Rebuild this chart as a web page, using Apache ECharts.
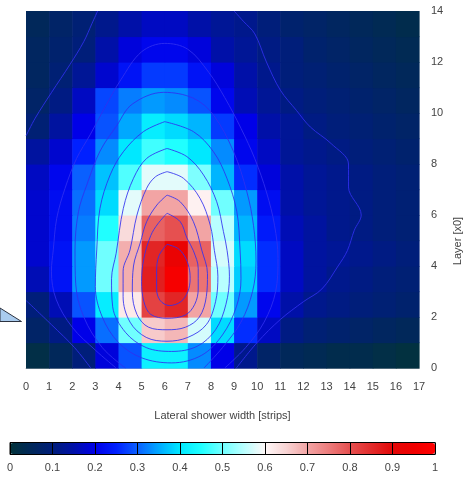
<!DOCTYPE html>
<html>
<head>
<meta charset="utf-8">
<script src="https://cdn.jsdelivr.net/npm/echarts@6/dist/echarts.min.js"></script>
<style>
html, body { margin: 0; padding: 0; background: #fff; }
#chart { width: 471px; height: 477px; }
</style>
</head>
<body>
<div id="chart"></div>
<script>
// strip (x) and layer (y) index of every cell, lower edge of the cell
const strips = [0, 1, 2, 3, 4, 5, 6, 7, 8, 9, 10, 11, 12, 13, 14, 15, 16]
const layers = [0, 1, 2, 3, 4, 5, 6, 7, 8, 9, 10, 11, 12, 13]

// normalised energy, one row per layer (layer 0 first)
const cellValues = [
  [0.02, 0.05, 0.10, 0.19, 0.29, 0.42, 0.42, 0.33, 0.20, 0.12, 0.07, 0.05, 0.04, 0.03, 0.03, 0.02, 0.01],
  [0.07, 0.11, 0.20, 0.31, 0.50, 0.66, 0.68, 0.57, 0.39, 0.26, 0.17, 0.11, 0.09, 0.08, 0.07, 0.06, 0.05],
  [0.10, 0.16, 0.29, 0.41, 0.62, 0.82, 0.86, 0.70, 0.50, 0.34, 0.21, 0.15, 0.12, 0.11, 0.10, 0.09, 0.08],
  [0.16, 0.23, 0.34, 0.50, 0.69, 0.87, 0.97, 0.76, 0.55, 0.38, 0.26, 0.17, 0.14, 0.12, 0.11, 0.10, 0.09],
  [0.18, 0.23, 0.34, 0.50, 0.69, 0.86, 0.93, 0.78, 0.57, 0.39, 0.26, 0.17, 0.14, 0.13, 0.12, 0.11, 0.10],
  [0.18, 0.22, 0.32, 0.45, 0.64, 0.78, 0.80, 0.70, 0.55, 0.36, 0.24, 0.16, 0.14, 0.12, 0.11, 0.10, 0.09],
  [0.18, 0.22, 0.31, 0.39, 0.58, 0.70, 0.70, 0.61, 0.50, 0.34, 0.22, 0.15, 0.13, 0.12, 0.11, 0.10, 0.09],
  [0.17, 0.21, 0.30, 0.37, 0.48, 0.58, 0.58, 0.51, 0.36, 0.26, 0.19, 0.15, 0.13, 0.12, 0.11, 0.10, 0.09],
  [0.14, 0.18, 0.25, 0.33, 0.40, 0.47, 0.45, 0.40, 0.33, 0.21, 0.17, 0.13, 0.12, 0.11, 0.10, 0.09, 0.08],
  [0.09, 0.14, 0.20, 0.29, 0.35, 0.41, 0.39, 0.36, 0.27, 0.20, 0.15, 0.13, 0.11, 0.10, 0.09, 0.08, 0.07],
  [0.07, 0.11, 0.17, 0.28, 0.32, 0.34, 0.33, 0.29, 0.21, 0.16, 0.13, 0.11, 0.10, 0.09, 0.08, 0.07, 0.06],
  [0.06, 0.09, 0.13, 0.18, 0.23, 0.27, 0.27, 0.23, 0.19, 0.15, 0.12, 0.10, 0.09, 0.08, 0.07, 0.06, 0.05],
  [0.06, 0.08, 0.10, 0.15, 0.19, 0.21, 0.21, 0.19, 0.15, 0.13, 0.11, 0.10, 0.08, 0.07, 0.06, 0.05, 0.04],
  [0.05, 0.07, 0.09, 0.12, 0.15, 0.17, 0.17, 0.15, 0.13, 0.12, 0.10, 0.08, 0.07, 0.06, 0.05, 0.04, 0.03]
]

// contour lines, [strip, layer]
const contour10a = [[0, 9.1], [0.4, 9.8], [1.1, 10.8], [1.9, 11.9], [2.5, 12.8], [2.85, 13.5], [3.1, 14]]
const contour10b = [[9.0, 14], [9.4, 13.6], [9.9, 13.1], [10.4, 12.0], [11.0, 10.9], [11.7, 10.1], [12.3, 9.45],
  [13.2, 8.8], [13.95, 8.0], [13.95, 7.1], [14.5, 6.0], [14.2, 5.4], [13.9, 4.6], [13.5, 4.0], [12.8, 3.1],
  [12.0, 2.6], [11.0, 1.9], [10.0, 1.0], [9.1, 0]]
const contour10c = [[0, 2.65], [1.1, 1.7], [2.1, 0.8], [2.8, 0]]
const contour20 = [[3.9, 0], [3.0, 0.7], [2.0, 1.6], [1.3, 2.7], [1.1, 3.8], [1.18, 4.63], [1.33, 5.87],
  [1.69, 7.05], [2.19, 8.22], [2.77, 9.14], [3.4, 10.2], [4.1, 11.3], [5.0, 12.4], [6.0, 12.73], [7.0, 12.5],
  [7.9, 11.6], [8.6, 10.6], [9.3, 9.4], [9.9, 8.2], [10.4, 6.9], [10.75, 5.6], [10.9, 4.3], [10.8, 3.0],
  [10.3, 1.8], [9.5, 0.8], [8.6, 0]]
const contour30 = [[4.3, 0], [3.3, 0.8], [2.5, 2.0], [2.15, 3.3], [2.12, 4.63], [2.27, 6.13], [2.63, 7.18],
  [3.2, 8.5], [3.92, 9.5], [4.6, 10.35], [5.95, 10.81], [7.24, 10.58], [8.11, 9.92], [8.98, 8.48],
  [9.55, 6.92], [9.84, 5.6], [9.95, 4.2], [9.8, 3.0], [9.3, 1.8], [8.5, 0.8], [7.7, 0]]
const contour40 = [[6.0, 9.66], [7.24, 9.27], [8.11, 8.48], [8.69, 7.44], [9.12, 6.13], [9.26, 4.63], [9.3, 3.5],
  [9.1, 2.4], [8.5, 1.3], [7.6, 0.5], [6.3, 0.2], [5.0, 0.4], [4.0, 1.0], [3.3, 2.0], [3.0, 3.2], [3.06, 4.63],
  [3.2, 6.26], [3.64, 7.57], [4.21, 8.48], [5.08, 9.27], [6.0, 9.66]]
const contour50 = [[6.1, 8.61], [6.96, 8.29], [7.68, 7.57], [8.25, 6.52], [8.54, 5.35], [8.7, 4.6], [8.8, 3.6],
  [8.65, 2.5], [8.2, 1.5], [7.4, 0.85], [6.3, 0.65], [5.2, 0.8], [4.3, 1.4], [3.75, 2.4], [3.7, 3.5], [3.9, 4.5],
  [4.21, 6.26], [4.65, 7.44], [5.22, 8.22], [6.1, 8.61]]
const contour60 = [[6.1, 7.7], [6.81, 7.44], [7.53, 6.65], [7.97, 5.6], [8.15, 4.6], [8.3, 3.6], [8.2, 2.6],
  [7.8, 1.7], [7.0, 1.2], [6.1, 1.05], [5.2, 1.2], [4.5, 1.8], [4.2, 2.8], [4.2, 3.8], [4.5, 4.63], [4.8, 6.0],
  [5.22, 7.05], [5.6, 7.5], [6.1, 7.7]]
const contour70 = [[6.1, 6.78], [6.67, 6.52], [7.24, 5.74], [7.6, 4.63], [7.85, 3.7], [7.8, 2.8], [7.5, 2.0],
  [6.9, 1.6], [6.1, 1.5], [5.3, 1.6], [4.8, 2.1], [4.6, 3.0], [4.65, 4.0], [4.94, 4.9], [5.22, 5.74],
  [5.66, 6.39], [6.1, 6.78]]
const contour80 = [[6.1, 6.07], [6.67, 5.74], [6.96, 5.1], [7.24, 4.6], [7.45, 3.9], [7.45, 3.1], [7.3, 2.5],
  [6.9, 2.08], [6.1, 1.95], [5.4, 2.1], [5.1, 2.6], [5.0, 3.4], [5.1, 4.3], [5.4, 5.2], [5.7, 5.65], [6.1, 6.07]]
const contour90 = [[6.1, 4.85], [6.55, 4.7], [6.85, 4.4], [7.05, 3.95], [7.1, 3.5], [7.0, 3.0], [6.7, 2.6],
  [6.2, 2.45], [5.8, 2.65], [5.65, 3.1], [5.65, 3.8], [5.75, 4.4], [6.1, 4.85]]

const colorbarTicks = [0, 0.1, 0.2, 0.3, 0.4, 0.5, 0.6, 0.7, 0.8, 0.9, 1]

const palette = ['#02333a', '#01285a', '#001e7a', '#0010a8', '#0000e8', '#0020ff', '#0a60ff', '#00a8ff',
  '#00e8ff', '#20ffff', '#70ffff', '#b8ffff', '#fff8f8', '#f8d4d4', '#f2a4a4', '#ec7c7c', '#e65050',
  '#e22c2c', '#e20808', '#f00000', '#ff0000']

const font = 'Liberation Sans'
const textColor = '#444'

const cells = []
layers.forEach((layer, j) => {
  strips.forEach((strip, i) => {
    cells.push([strip, layer, cellValues[j][i]])
  })
})

function renderCell (params, api) {
  const p0 = api.coord([api.value(0), api.value(1) + 1])
  const p1 = api.coord([api.value(0) + 1, api.value(1)])
  return {
    type: 'rect',
    shape: { x: p0[0], y: p0[1], width: p1[0] - p0[0] + 0.6, height: p1[1] - p0[1] + 0.6 },
    style: { fill: api.visual('color') }
  }
}

const contours = [contour10a, contour10b, contour10c, contour20, contour30, contour40,
  contour50, contour60, contour70, contour80, contour90]

const chart = echarts.init(document.getElementById('chart'))
const option = {
  animation: false,
  grid: [
    { left: 26, right: 52, top: 11, bottom: 109 },
    { left: 10, width: 425, top: 442.5, height: 12, show: true, borderColor: '#000', borderWidth: 1 }
  ],
  xAxis: [{
    type: 'value',
    min: 0,
    max: 17,
    interval: 1,
    axisLine: { lineStyle: { color: '#b8bcc4' } },
    axisTick: { show: false },
    splitLine: { show: false },
    axisLabel: { margin: 13, color: textColor, fontSize: 11, fontFamily: font },
    name: 'Lateral shower width [strips]',
    nameLocation: 'middle',
    nameGap: 42,
    nameTextStyle: { color: textColor, fontSize: 11, fontFamily: font }
  }, {
    gridIndex: 1,
    type: 'value',
    min: 0,
    max: 1,
    interval: 0.1,
    z: 10,
    axisLine: { show: false },
    axisTick: { show: true, inside: true, length: 12, lineStyle: { color: '#000' } },
    splitLine: { show: false },
    axisLabel: { margin: 8, color: textColor, fontSize: 11, fontFamily: font,
      formatter: (v) => colorbarTicks.indexOf(Math.round(v * 10) / 10) >= 0 ? String(Math.round(v * 10) / 10) : '' }
  }],
  yAxis: [{
    type: 'value',
    position: 'right',
    min: 0,
    max: 14,
    interval: 2,
    axisLine: { show: false },
    axisTick: { show: false },
    splitLine: { show: false },
    axisLabel: { margin: 12, color: textColor, fontSize: 11, fontFamily: font }
  }, {
    gridIndex: 1,
    type: 'value',
    min: 0,
    max: 1,
    show: false
  }],
  visualMap: {
    type: 'continuous',
    min: 0,
    max: 1,
    dimension: 2,
    seriesIndex: 0,
    orient: 'horizontal',
    left: 10,
    top: 443,
    itemWidth: 11,
    itemHeight: 425,
    padding: 0,
    calculable: false,
    hoverLink: false,
    inRange: { color: palette }
  },
  graphic: [{
    type: 'polygon',
    shape: { points: [[0, 308], [21.5, 321.5], [0, 321.5]] },
    style: { fill: '#a9cbee', stroke: '#2c3340', lineWidth: 1 }
  }, {
    type: 'text',
    x: 458,
    y: 241,
    rotation: Math.PI / 2,
    style: { text: 'Layer [x0]', fill: textColor, font: '11px ' + font, align: 'center', verticalAlign: 'middle' }
  }],
  series: [{
    type: 'custom',
    renderItem: renderCell,
    data: cells,
    encode: { x: 0, y: 1 },
    z: 1
  }].concat(contours.map((pts) => ({
    type: 'line',
    data: pts,
    showSymbol: false,
    smooth: 0.35,
    silent: true,
    z: 5,
    lineStyle: { color: '#3030f0', width: 1, opacity: 0.85 }
  })))
}
chart.setOption(option)
</script>
</body>
</html>
